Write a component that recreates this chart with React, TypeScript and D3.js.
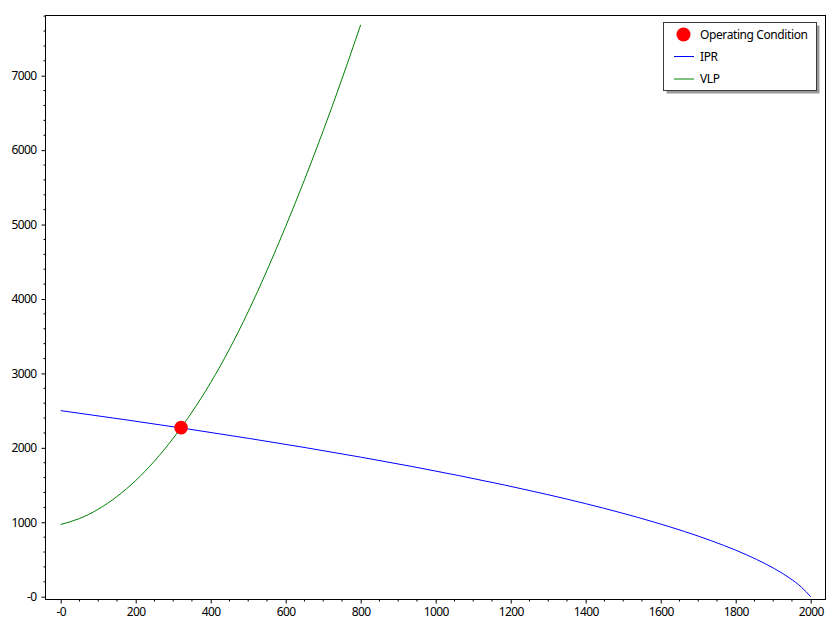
import React, { useEffect, useRef } from 'react';
import * as d3 from 'd3';

// IPR curve: rate (x) and pressure (y)
const iprRate = [0, 176, 344, 504, 656, 800, 936, 1064, 1184, 1296, 1400, 1496, 1584, 1664, 1736, 1800, 1856, 1904, 1944, 1976, 2000];
const iprPressure = [2500, 2375, 2250, 2125, 2000, 1875, 1750, 1625, 1500, 1375, 1250, 1125, 1000, 875, 750, 625, 500, 375, 250, 125, 0];

// VLP curve
const vlpRate = [0, 50, 100, 150, 200, 250, 300, 350, 400, 450, 500, 550, 600, 650, 700, 750, 800];
const vlpPressure = [970, 1050, 1175, 1346, 1561, 1822, 2129, 2480, 2877, 3327, 3830, 4383, 4975, 5600, 6260, 6955, 7684];

// operating point
const opRate = [321];
const opPressure = [2271];

const xTicks = [0, 200, 400, 600, 800, 1000, 1200, 1400, 1600, 1800, 2000];
const yTicks = [0, 1000, 2000, 3000, 4000, 5000, 6000, 7000];
const legendLabels = ['Operating Condition', 'IPR', 'VLP'];

const W = 840;
const H = 630;
const plot = { left: 45.5, top: 15.5, right: 825.5, bottom: 599.5 };
const FONT = '"Noto Sans", "Open Sans", sans-serif';

const App: React.FC = () => {
    const xAxisRef = useRef<SVGGElement>(null);
    const yAxisRef = useRef<SVGGElement>(null);

    const x = d3.scaleLinear().domain([0, 2000]).range([60.7, 810.7]);
    const y = d3.scaleLinear().domain([0, 7000]).range([596.7, 75.7]);

    const fmt = (d: d3.NumberValue) => (+d === 0 ? '-0' : String(d));

    useEffect(() => {
        if (!xAxisRef.current || !yAxisRef.current) return;

        // minor ticks
        const xMinor = d3.range(-50, 2050, 50).filter(v => v % 200 !== 0 && x(v) > plot.left && x(v) < plot.right);
        const yMinor = d3.range(-200, 7900, 200).filter(v => v % 1000 !== 0 && y(v) < plot.bottom && y(v) > plot.top);

        const gx = d3.select(xAxisRef.current);
        gx.selectAll('*').remove();
        gx.call(d3.axisBottom(x).tickValues(xTicks).tickFormat(fmt).tickSize(4).tickSizeOuter(0).tickPadding(4));
        gx.select('.domain').remove();
        gx.selectAll('.minor')
            .data(xMinor)
            .enter()
            .append('line')
            .attr('class', 'minor')
            .attr('x1', d => x(d))
            .attr('x2', d => x(d))
            .attr('y1', 0)
            .attr('y2', 2)
            .attr('stroke', '#000');
        gx.selectAll('text')
            .attr('font-family', FONT)
            .attr('font-size', '12px')
            .attr('letter-spacing', '-0.6px')
            .attr('fill', '#000');

        const gy = d3.select(yAxisRef.current);
        gy.selectAll('*').remove();
        gy.call(d3.axisLeft(y).tickValues(yTicks).tickFormat(fmt).tickSize(4).tickSizeOuter(0).tickPadding(5));
        gy.select('.domain').remove();
        gy.selectAll('.minor')
            .data(yMinor)
            .enter()
            .append('line')
            .attr('class', 'minor')
            .attr('y1', d => y(d))
            .attr('y2', d => y(d))
            .attr('x1', 0)
            .attr('x2', -2)
            .attr('stroke', '#000');
        gy.selectAll('text')
            .attr('font-family', FONT)
            .attr('font-size', '12px')
            .attr('letter-spacing', '-0.6px')
            .attr('fill', '#000');
    }, []);

    const iprLine = d3.line<[number, number]>()
        .x(d => x(d[0]))
        .y(d => y(d[1]))
        .curve(d3.curveMonotoneX);

    const vlpLine = d3.line<[number, number]>()
        .x(d => x(d[0]))
        .y(d => y(d[1]))
        .curve(d3.curveNatural);

    const iprPath = iprLine(iprRate.map((r, i) => [r, iprPressure[i]]));
    const vlpPath = vlpLine(vlpRate.map((r, i) => [r, vlpPressure[i]]));

    const legX = 663.5;
    const legY = 22.5;
    const legW = 153;
    const legH = 68;
    const rowY = [34.5, 56.5, 79];

    return (
        <svg width={W} height={H} style={{ position: 'absolute', left: 0, top: 0, background: '#fff' }}>
            <defs>
                <clipPath id="plot-clip">
                    <rect x={plot.left} y={plot.top} width={plot.right - plot.left} height={plot.bottom - plot.top} />
                </clipPath>
            </defs>

            {/* plot frame */}
            <rect x={plot.left} y={plot.top} width={plot.right - plot.left} height={plot.bottom - plot.top}
                fill="none" stroke="#000" strokeWidth={1} />

            <g clipPath="url(#plot-clip)">
                <path d={iprPath ?? ''} fill="none" stroke="#0000ff" strokeWidth={1} />
                <path d={vlpPath ?? ''} fill="none" stroke="#008000" strokeWidth={1} />
                {opRate.map((r, i) => (
                    <circle key={i} cx={x(r)} cy={y(opPressure[i])} r={6.8} fill="#ff0000" />
                ))}
            </g>

            <g ref={xAxisRef} transform={`translate(0,${plot.bottom})`} />
            <g ref={yAxisRef} transform={`translate(${plot.left},0)`} />

            {/* legend */}
            <rect x={legX + 3} y={legY + 3} width={legW} height={legH} fill="#999" />
            <rect x={legX} y={legY} width={legW} height={legH} fill="#fff" stroke="#3a3a3a" strokeWidth={1} />
            <circle cx={683.5} cy={rowY[0]} r={7} fill="#ff0000" />
            <line x1={674} x2={694} y1={rowY[1]} y2={rowY[1]} stroke="#0000ff" strokeWidth={1} />
            <line x1={674} x2={694} y1={rowY[2]} y2={rowY[2]} stroke="#008000" strokeWidth={1} />
            {legendLabels.map((t, i) => (
                <text key={t} x={700} y={rowY[i]} dy="0.35em" fontFamily={FONT} fontSize={12}
                    letterSpacing="-0.4px" fill="#000">{t}</text>
            ))}
        </svg>
    );
};

export default App;
